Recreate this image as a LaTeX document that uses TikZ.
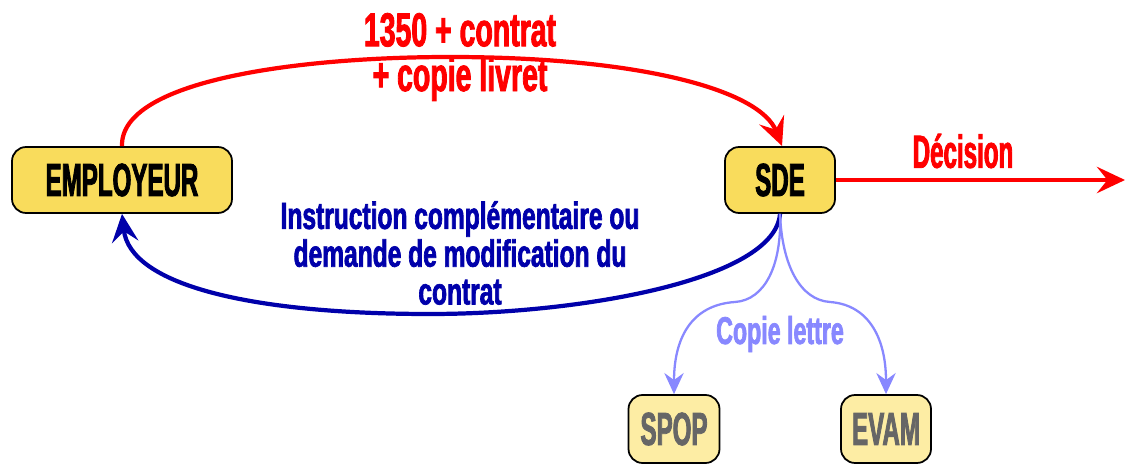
\documentclass[tikz,border=0pt]{standalone}
\usepackage{fontspec}
\usetikzlibrary{arrows.meta}
\newfontfamily\hfont{Liberation Sans Bold}[FakeStretch=0.52,FakeBold=1.8]
\newfontfamily\lfont{Liberation Sans Bold}[FakeStretch=0.6,FakeBold=1.8]
\newfontfamily\bfont{Liberation Sans Bold}[FakeStretch=0.65,FakeBold=1.8]
\definecolor{boxY}{HTML}{F9DC5C}
\definecolor{boxL}{HTML}{FDEDA4}
\definecolor{redA}{HTML}{FF0000}
\definecolor{blueA}{HTML}{0000AA}
\definecolor{blueL}{HTML}{8888FF}
\definecolor{greyT}{HTML}{666666}

\begin{document}
\begin{tikzpicture}[x=0.02cm,y=-0.02cm,
  actor/.style={draw=black,line width=1pt,rounded corners=8pt,fill=boxY,font=\hfont\fontsize{26.4}{26.4}\selectfont,inner sep=0pt},
  actorL/.style={actor,fill=boxL,text=greyT},
  redarr/.style={draw=redA,line width=2.4pt,-{Stealth[length=16pt,width=15pt,inset=6pt]}},
  bluearr/.style={draw=blueA,line width=2.4pt,-{Stealth[length=16pt,width=15pt,inset=6pt]}},
  copyarr/.style={draw=blueL,line width=1.3pt,-{Stealth[length=12pt,width=11pt,inset=4pt]}},
  lbl/.style={font=\lfont\fontsize{27}{25.5}\selectfont,align=center}]
\useasboundingbox (0,0) rectangle (1125,465);

\node[actor,minimum width=4.4cm,minimum height=1.32cm] (EMP) at (122,180) {EMPLOYEUR};
\node[actor,minimum width=2.2cm,minimum height=1.32cm] (SDE) at (780,180) {SDE};
\node[actorL,minimum width=1.82cm,minimum height=1.36cm] (SPOP) at (674,429) {SPOP};
\node[actorL,minimum width=1.8cm,minimum height=1.36cm] (EVAM) at (886,429) {EVAM};
\coordinate (end) at (1125,180);

% envoi du dossier
\draw[redarr] (EMP.north) .. controls (120,80) and (300,57) .. (450,57)
  .. controls (640,57) and (760,90) .. (782,146);
\node[lbl,text=redA] (envoi) at (460,57) {1350 + contrat\\+ copie livret};

% decision
\draw[redarr] (SDE.east) -- (end);
\node[lbl,text=redA,font=\hfont\fontsize{26.4}{26.4}\selectfont] (dec) at (963,151) {Décision};

% retour vers l'employeur
\draw[bluearr] (SDE.south) .. controls (775,280) and (580,314) .. (430,314)
  .. controls (250,314) and (130,285) .. (EMP.south);
\node[lbl,text=blueA,font=\bfont\fontsize{21.5}{21.5}\selectfont] (instr) at (460,253)
  {Instruction complémentaire ou\\demande de modification du\\contrat};

% copies
\draw[copyarr] (SDE.south) .. controls (782,265) and (765,300) .. (735,302)
  .. controls (690,305) and (674,340) .. (SPOP.north);
\draw[copyarr] (SDE.south) .. controls (782,265) and (800,300) .. (830,302)
  .. controls (870,305) and (886,340) .. (EVAM.north);
\node[lbl,text=blueL,font=\lfont\fontsize{22}{22}\selectfont] (copie) at (780,334) {Copie lettre};
\end{tikzpicture}
\end{document}
